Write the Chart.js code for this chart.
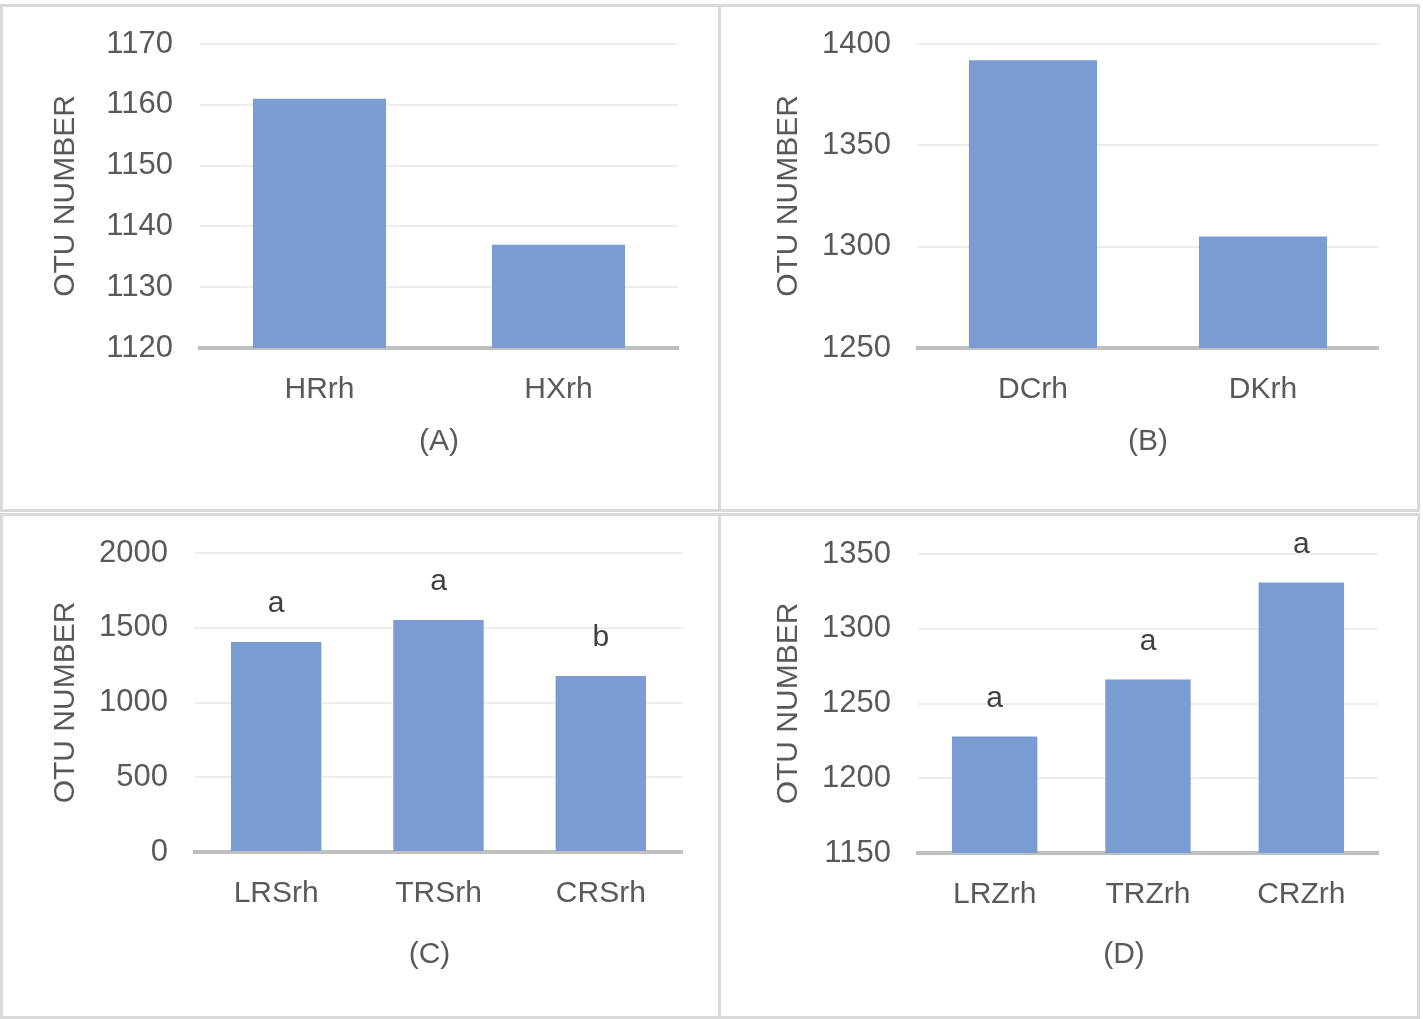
<!DOCTYPE html>
<html>
<head>
<meta charset="utf-8">
<script src="https://cdn.jsdelivr.net/npm/chart.js@4.4.1/dist/chart.umd.min.js"></script>
<style>
  html, body { margin:0; padding:0; background:#fff; }
  body { width:1423px; height:1019px; position:relative; overflow:hidden; }
  .panel { position:absolute; box-sizing:border-box; border:3px solid #d9d9d9; background:#fff; }
  .panel canvas { display:block; }
</style>
</head>
<body>
<div class="panel" id="pA" style="left:0;top:4px;width:721px;height:508px"><canvas id="cA" width="715" height="502"></canvas></div>
<div class="panel" id="pB" style="left:718px;top:4px;width:702px;height:508px"><canvas id="cB" width="696" height="502"></canvas></div>
<div class="panel" id="pC" style="left:0;top:513px;width:721px;height:506px"><canvas id="cC" width="715" height="500"></canvas></div>
<div class="panel" id="pD" style="left:718px;top:513px;width:702px;height:506px"><canvas id="cD" width="696" height="500"></canvas></div>
<script>
// data
const labelsA = ['HRrh', 'HXrh'];
const valuesA = [1161, 1137];
const ticksA = [1120, 1170, 10];

const labelsB = ['DCrh', 'DKrh'];
const valuesB = [1392, 1305];
const ticksB = [1250, 1400, 50];

const labelsC = ['LRSrh', 'TRSrh', 'CRSrh'];
const valuesC = [1405, 1552, 1177];
const lettersC = ['a', 'a', 'b'];
const ticksC = [0, 2000, 500];

const labelsD = ['LRZrh', 'TRZrh', 'CRZrh'];
const valuesD = [1228, 1266, 1331];
const lettersD = ['a', 'a', 'a'];
const ticksD = [1150, 1350, 50];

const FONT = "'Liberation Sans', Arial, sans-serif";
const BAR = '#7b9cd3';
const TXT = '#595959';

// letters above bars + panel caption under the axis
const extrasPlugin = {
  id: 'extras',
  afterDatasetsDraw(chart, args, opts){
    const ctx = chart.ctx;
    const meta = chart.getDatasetMeta(0);
    ctx.save();
    ctx.font = '30px ' + FONT;
    ctx.textAlign = 'center';
    ctx.textBaseline = 'middle';
    if(opts.items){
      ctx.fillStyle = '#404040';
      meta.data.forEach((bar, i)=>{
        if(opts.items[i]) ctx.fillText(opts.items[i], bar.x, bar.y - 38);
      });
    }
    if(opts.caption){
      const a = chart.chartArea;
      ctx.fillStyle = TXT;
      ctx.fillText(opts.caption, (a.left + a.right)/2 + opts.dx, opts.y);
    }
    ctx.restore();
  }
};

function makeChart(id, labels, values, ticks, caption, box, letters){
  const cv = document.getElementById(id);
  const W = cv.width, H = cv.height;
  return new Chart(cv, {
    type: 'bar',
    data: {
      labels: labels,
      datasets: [{ data: values, backgroundColor: BAR, borderWidth: 0,
                   barPercentage: 0.557, categoryPercentage: 1 }]
    },
    options: {
      responsive: false,
      animation: false,
      events: [],
      layout: { padding: { left: 0, top: box.top, right: W - box.right, bottom: 0 } },
      plugins: { legend: { display: false }, tooltip: { enabled: false },
                 extras: { items: letters, caption: caption, dx: box.dx, y: box.cap } },
      scales: {
        x: {
          grid: { display: false },
          border: { display: true, color: '#bfbfbf', width: 4 },
          ticks: { color: TXT, font: { family: FONT, size: 30 }, padding: 16, maxRotation: 0 },
          afterFit(s){ s.height = H - box.bottom; }
        },
        y: {
          min: ticks[0], max: ticks[1],
          grid: { color: '#ededed', lineWidth: 2, drawTicks: false },
          border: { display: false },
          ticks: { stepSize: ticks[2], color: TXT, font: { family: FONT, size: 31 }, padding: 27,
                   callback: v => String(v) },
          title: { display: true, text: 'OTU NUMBER', color: TXT, font: { family: FONT, size: 30 },
                   padding: { top: box.ttl - 18, bottom: 0 } },
          afterFit(s){ s.width = box.left; s.paddingTop = 0; s.paddingBottom = 0; }
        }
      }
    },
    plugins: [extrasPlugin]
  });
}

// plot boxes in canvas pixels: left/right/top/bottom of plot area, caption centre y and x shift, axis title centre x
makeChart('cA', labelsA, valuesA, ticksA, '(A)', { left:197, right:675, top:37, bottom:341, cap:435, dx:0, ttl:63 }, null);
makeChart('cB', labelsB, valuesB, ticksB, '(B)', { left:197, right:657, top:37, bottom:341, cap:435, dx:0, ttl:68 }, null);
makeChart('cC', labelsC, valuesC, ticksC, '(C)', { left:192, right:679, top:37, bottom:336, cap:439, dx:-9, ttl:63 }, lettersC);
makeChart('cD', labelsD, valuesD, ticksD, '(D)', { left:197, right:657, top:38, bottom:337, cap:439, dx:-24, ttl:68 }, lettersD);
</script>
</body>
</html>
